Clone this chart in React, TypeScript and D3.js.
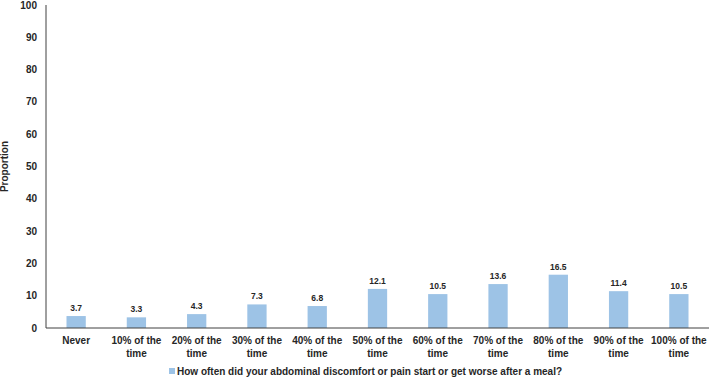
import React from "react";
import * as d3 from "d3";

const categories = [
  ["Never"],
  ["10% of the", "time"],
  ["20% of the", "time"],
  ["30% of the", "time"],
  ["40% of the", "time"],
  ["50% of the", "time"],
  ["60% of the", "time"],
  ["70% of the", "time"],
  ["80% of the", "time"],
  ["90% of the", "time"],
  ["100% of the", "time"],
];
const values = [3.7, 3.3, 4.3, 7.3, 6.8, 12.1, 10.5, 13.6, 16.5, 11.4, 10.5];
const yTicks = [0, 10, 20, 30, 40, 50, 60, 70, 80, 90, 100];
const seriesName = "How often did your abdominal discomfort or pain start or get worse after a meal?";
const yTitle = "Proportion";

export default function App() {
  const W = 709, H = 377;
  const left = 46, right = 709, top = 5, bottom = 328;
  const keys = categories.map((c) => c.join(" "));
  const x = d3.scaleBand().domain(keys).range([left, right]).paddingInner(0.68).paddingOuter(0.34);
  const y = d3.scaleLinear().domain([0, 100]).range([bottom, top]);
  const font = "'Liberation Sans', Arial, sans-serif";
  const color = "#9DC3E6";
  return (
    <svg width={W} height={H} style={{ position: "absolute", left: 0, top: 0 }} fontFamily={font}>
      <rect width={W} height={H} fill="#fff" />
      {values.map((v, i) => (
        <g key={i}>
          <rect x={x(keys[i])} y={y(v)} width={x.bandwidth()} height={bottom - y(v)} fill={color} />
          <text x={(x(keys[i]) as number) + x.bandwidth() / 2} y={y(v) - 5} textAnchor="middle" fontSize={8.5} fontWeight="bold" fill="#262626">
            {v.toFixed(1)}
          </text>
        </g>
      ))}
      <line x1={left} x2={left} y1={top} y2={bottom} stroke="#404040" strokeWidth={1} />
      <line x1={left} x2={right} y1={bottom} y2={bottom} stroke="#404040" strokeWidth={1} />
      {yTicks.map((t) => (
        <text key={t} x={left - 9} y={y(t)} dy="0.35em" textAnchor="end" fontSize={10} fontWeight="bold" fill="#262626">
          {t}
        </text>
      ))}
      {categories.map((c, i) => (
        <text key={i} x={(x(keys[i]) as number) + x.bandwidth() / 2} textAnchor="middle" fontSize={10} fontWeight="bold" fill="#262626">
          {c.map((l, j) => (
            <tspan key={j} x={(x(keys[i]) as number) + x.bandwidth() / 2} y={344 + j * 12.5}>
              {l}
            </tspan>
          ))}
        </text>
      ))}
      <text transform={`translate(8,${(top + bottom) / 2}) rotate(-90)`} textAnchor="middle" fontSize={10} fontWeight="bold" fill="#262626">
        {yTitle}
      </text>
      <rect x={169} y={368} width={6} height={6} fill={color} />
      <text x={177} y={375} fontSize={10} fontWeight="bold" fill="#262626">
        {seriesName}
      </text>
    </svg>
  );
}
